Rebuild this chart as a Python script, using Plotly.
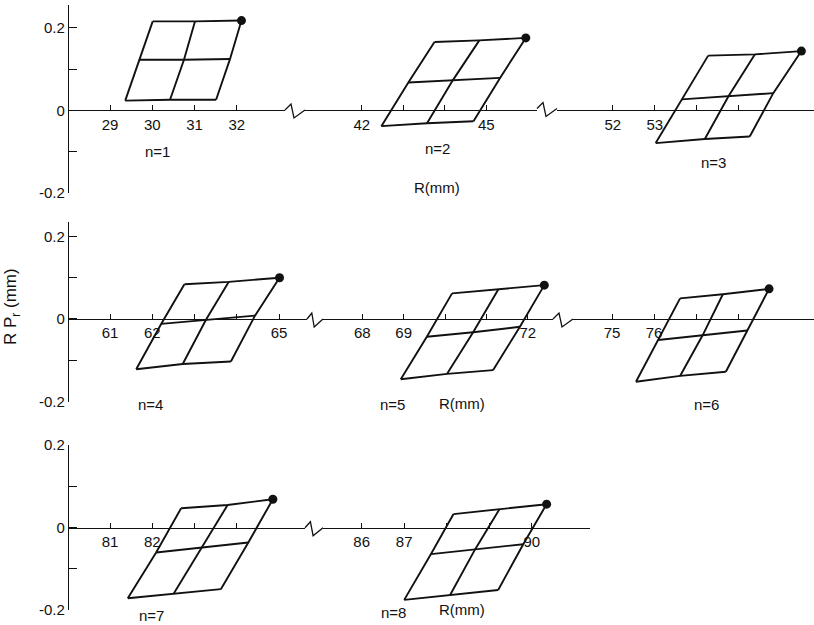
import plotly.graph_objects as go

# Phase-space grids (R, R*Pr) for turns n = 1..8.
# Each grid is 3x3 nodes: rows = lower edge, middle line, upper edge;
# columns = left, centre, right.  The upper-right node is the marked particle.
N1_R = [[29.36, 30.42, 31.51], [29.69, 30.75, 31.84], [30.01, 31.01, 32.11]]
N1_P = [[0.024, 0.026, 0.026], [0.123, 0.123, 0.125], [0.216, 0.216, 0.218]]

N2_R = [[42.47, 43.57, 44.69], [43.12, 44.19, 45.33], [43.75, 44.83, 45.95]]
N2_P = [[-0.038, -0.031, -0.026], [0.068, 0.073, 0.079], [0.166, 0.170, 0.176]]

N3_R = [[53.02, 54.19, 55.26], [53.64, 54.75, 55.82], [54.27, 55.38, 56.49]]
N3_P = [[-0.079, -0.069, -0.063], [0.027, 0.034, 0.042], [0.133, 0.136, 0.144]]

N4_R = [[61.62, 62.72, 63.86], [62.21, 63.27, 64.43], [62.76, 63.81, 65.01]]
N4_P = [[-0.122, -0.109, -0.103], [-0.012, -0.002, 0.008], [0.084, 0.090, 0.100]]

N5_R = [[68.93, 70.05, 71.16], [69.56, 70.68, 71.81], [70.17, 71.29, 72.40]]
N5_P = [[-0.146, -0.133, -0.124], [-0.043, -0.032, -0.019], [0.062, 0.072, 0.082]]

N6_R = [[75.57, 76.62, 77.71], [76.10, 77.16, 78.22], [76.62, 77.64, 78.74]]
N6_P = [[-0.152, -0.138, -0.128], [-0.051, -0.039, -0.028], [0.050, 0.060, 0.073]]

N7_R = [[81.42, 82.50, 83.62], [82.09, 83.17, 84.27], [82.68, 83.78, 84.85]]
N7_P = [[-0.171, -0.161, -0.149], [-0.060, -0.048, -0.036], [0.047, 0.055, 0.069]]

N8_R = [[87.00, 88.08, 89.21], [87.63, 88.67, 89.80], [88.16, 89.24, 90.35]]
N8_P = [[-0.175, -0.163, -0.151], [-0.064, -0.052, -0.040], [0.033, 0.045, 0.057]]

TURN_LABELS = ["n=1", "n=2", "n=3", "n=4", "n=5", "n=6", "n=7", "n=8"]

# Tick values and labels of each broken R-axis segment
X1_TICKS = [29, 30, 31, 32];      X1_TEXT = ["29", "30", "31", "32"]
X2_TICKS = [42, 43, 44, 45];      X2_TEXT = ["42", "", "", "45"]
X3_TICKS = [52, 53, 54, 55];      X3_TEXT = ["52", "53", "", ""]
X4_TICKS = [61, 62, 63, 64, 65];  X4_TEXT = ["61", "62", "", "", "65"]
X5_TICKS = [68, 69, 70, 71, 72];  X5_TEXT = ["68", "69", "", "", "72"]
X6_TICKS = [75, 76, 77, 78];      X6_TEXT = ["75", "76", "", ""]
X7_TICKS = [81, 82, 83, 84];      X7_TEXT = ["81", "82", "", ""]
X8_TICKS = [86, 87, 88, 89, 90];  X8_TEXT = ["86", "87", "", "", "90"]

Y_TICKS = [-0.2, -0.1, 0, 0.1, 0.2]
Y_TEXT = ["-0.2", "", "0", "", "0.2"]

W, H = 814, 625
FONT = "Liberation Sans Narrow, Liberation Sans, Arial, sans-serif"
INK = "#111111"


def fx(px):
    return px / W


def fy(py):
    return 1 - py / H


# Axis segments: (pixel span, data range, ticks, texts, row)
segments = [
    ((69, 285), (28.03, 33.14), X1_TICKS, X1_TEXT, 1),
    ((305, 537), (40.63, 46.22), X2_TICKS, X2_TEXT, 1),
    ((557, 814), (50.67, 56.79), X3_TICKS, X3_TEXT, 1),
    ((69, 307), (60.03, 65.66), X4_TICKS, X4_TEXT, 2),
    ((323, 553), (67.05, 72.61), X5_TICKS, X5_TEXT, 2),
    ((573, 814), (74.07, 79.81), X6_TICKS, X6_TEXT, 2),
    ((69, 305), (80.03, 85.61), X7_TICKS, X7_TEXT, 3),
    ((323, 590), (85.09, 91.37), X8_TICKS, X8_TEXT, 3),
]

# Row vertical extents (pixel top/bottom) and RPr ranges
rows = {
    1: ((5.3, 193.0), (-0.2, 0.255)),
    2: ((222.0, 401.5), (-0.2, 0.235)),
    3: ((445.2, 610.2), (-0.2, 0.2)),
}
first_x_of_row = {1: "x", 2: "x4", 3: "x7"}

fig = go.Figure()

layout = dict(
    width=W, height=H, autosize=False,
    margin=dict(l=0, r=0, t=0, b=0, pad=0),
    paper_bgcolor="white", plot_bgcolor="white",
    showlegend=False,
    font=dict(family=FONT, size=15, color=INK),
)

for r, ((top, bot), (y0, y1)) in rows.items():
    key = "yaxis" if r == 1 else f"yaxis{r}"
    layout[key] = dict(
        domain=[fy(bot), fy(top)], range=[y0, y1],
        anchor=first_x_of_row[r], automargin=False,
        showline=True, linecolor=INK, linewidth=1.3,
        ticks="inside", ticklen=8, tickwidth=1.2, tickcolor=INK,
        tickvals=Y_TICKS, ticktext=Y_TEXT,
        tickfont=dict(family=FONT, size=15, color=INK),
        showgrid=False, zeroline=False, fixedrange=True,
    )

for i, ((p0, p1), rng, tv, tt, r) in enumerate(segments, start=1):
    (top, bot), (y0, y1) = rows[r]
    dom_lo, dom_hi = fy(bot), fy(top)
    zero_pos = dom_lo + (0 - y0) / (y1 - y0) * (dom_hi - dom_lo)
    key = "xaxis" if i == 1 else f"xaxis{i}"
    layout[key] = dict(
        domain=[fx(p0), fx(p1)], range=list(rng),
        anchor="free", position=zero_pos, automargin=False,
        showline=True, linecolor=INK, linewidth=1.3,
        ticks="inside", ticklen=5, tickwidth=1.2, tickcolor=INK,
        tickvals=tv, ticktext=tt,
        tickfont=dict(family=FONT, size=15, color=INK),
        showgrid=False, zeroline=False, fixedrange=True,
    )

fig.update_layout(**layout)

panels = [
    (N1_R, N1_P, "x", "y"), (N2_R, N2_P, "x2", "y"), (N3_R, N3_P, "x3", "y"),
    (N4_R, N4_P, "x4", "y2"), (N5_R, N5_P, "x5", "y2"), (N6_R, N6_P, "x6", "y2"),
    (N7_R, N7_P, "x7", "y3"), (N8_R, N8_P, "x8", "y3"),
]

for R, P, xa, ya in panels:
    xs, ys = [], []
    # edges and middle line running across the grid
    for i in range(3):
        xs += R[i] + [None]
        ys += P[i] + [None]
    # slanted edges and middle line running up the grid
    for j in range(3):
        xs += [R[0][j], R[1][j], R[2][j], None]
        ys += [P[0][j], P[1][j], P[2][j], None]
    fig.add_trace(go.Scatter(
        x=xs, y=ys, mode="lines", xaxis=xa, yaxis=ya,
        line=dict(color=INK, width=1.9), hoverinfo="skip",
    ))
    fig.add_trace(go.Scatter(
        x=[R[2][2]], y=[P[2][2]], mode="markers", xaxis=xa, yaxis=ya,
        marker=dict(color=INK, size=9), hoverinfo="skip",
    ))

# Axis break marks (zig-zags) between segments, in pixel space
breaks = [(285, 305, 110), (537, 557, 108.5), (307, 323, 319),
          (553, 573, 319), (305, 323, 527.7)]
for a, b, yz in breaks:
    w = b - a
    pts = [(a, yz), (a + 0.3 * w, yz - 6), (a + 0.45 * w, yz + 8), (b, yz)]
    path = "M" + " L".join(f"{fx(px):.5f},{fy(py):.5f}" for px, py in pts)
    fig.add_shape(type="path", path=path, xref="paper", yref="paper",
                  line=dict(color=INK, width=1.3))

# Turn labels and R axis titles
label_pos = [(157, 152), (437, 148), (713, 162),
             (150, 404), (392, 404), (706, 404),
             (151, 615), (393, 612)]
for txt, (px, py) in zip(TURN_LABELS, label_pos):
    fig.add_annotation(text=txt, x=fx(px), y=fy(py), xref="paper", yref="paper",
                       xanchor="center", yanchor="middle", showarrow=False,
                       font=dict(family=FONT, size=15, color=INK))

for px, py in [(437, 187), (462, 403), (462, 609)]:
    fig.add_annotation(text="R(mm)", x=fx(px), y=fy(py), xref="paper", yref="paper",
                       xanchor="center", yanchor="middle", showarrow=False,
                       font=dict(family=FONT, size=15, color=INK))

fig.add_annotation(text="R P<sub>r</sub> (mm)", x=fx(12), y=fy(307),
                   xref="paper", yref="paper", textangle=-90, showarrow=False,
                   xanchor="center", yanchor="middle",
                   font=dict(family=FONT, size=17, color=INK))

fig.write_html("out.html")
